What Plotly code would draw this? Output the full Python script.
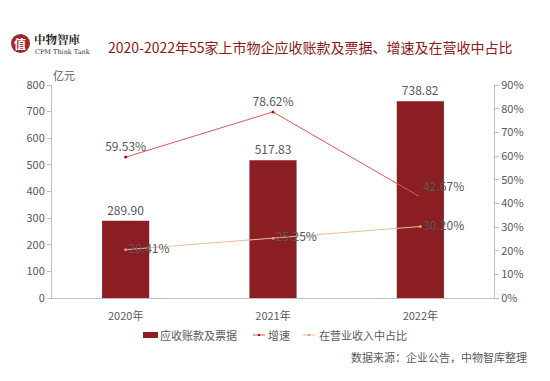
import plotly.graph_objects as go

years = ["2020年", "2021年", "2022年"]
receivables = [289.90, 517.83, 738.82]
growth = [59.53, 78.62, 42.67]
share = [20.41, 25.25, 30.20]
left_ticks = [0, 100, 200, 300, 400, 500, 600, 700, 800]
right_ticks = [0, 10, 20, 30, 40, 50, 60, 70, 80, 90]
legend_names = ["应收账款及票据", "增速", "在营业收入中占比"]

FONT = "Noto Sans CJK SC"
GRAY = "#595959"
BAR = "#8B1E22"
RED = "#E2555A"
TAN = "#EBBB9C"

fig = go.Figure()
fig.add_trace(go.Bar(
    x=years, y=receivables, name=legend_names[0], marker=dict(color=BAR, line=dict(width=0)),
    width=0.32, text=[f"{v:.2f}" for v in receivables], textposition="outside",
    textfont=dict(color=GRAY, size=12), cliponaxis=False, yaxis="y"))
fig.add_trace(go.Scatter(
    x=years, y=growth, name=legend_names[1], mode="lines+markers+text", yaxis="y2",
    line=dict(color=RED, width=1), marker=dict(size=3, color="#C00000"),
    text=[f"{v:.2f}%" for v in growth], textposition=["top center", "top center", "top right"],
    textfont=dict(color=GRAY, size=12), cliponaxis=False))
fig.add_trace(go.Scatter(
    x=years, y=share, name=legend_names[2], mode="lines+markers+text", yaxis="y2",
    line=dict(color=TAN, width=1), marker=dict(size=3, color="#D9A07A"),
    text=[f"{v:.2f}%" for v in share], textposition="middle right",
    textfont=dict(color=GRAY, size=12), cliponaxis=False))

# page is shown with an 8px body margin; plot area placed at ref px x 52-494, y 85-298
fig.update_layout(
    width=550, height=381, paper_bgcolor="white", plot_bgcolor="white",
    margin=dict(l=44, r=64, t=77, b=91),
    font=dict(family=FONT, color=GRAY, size=11),
    showlegend=False,
    xaxis=dict(showline=True, linecolor="#BFBFBF", linewidth=1, ticks="", showgrid=False,
               ticklabelstandoff=8, tickfont=dict(size=11, color=GRAY)),
    yaxis=dict(range=[0, 800], tickvals=left_ticks, showline=True, linecolor="#BFBFBF",
               linewidth=1, ticks="outside", ticklen=4, tickcolor="#BFBFBF", showgrid=False,
               zeroline=False, tickfont=dict(size=11, color=GRAY)),
    yaxis2=dict(range=[0, 90], tickvals=right_ticks, ticktext=[f"{v}%" for v in right_ticks],
                overlaying="y", side="right", showline=True, linecolor="#BFBFBF", linewidth=1,
                ticks="outside", ticklen=4, tickcolor="#BFBFBF", showgrid=False, zeroline=False,
                tickfont=dict(size=11, color=GRAY)),
)

def px(x):
    return (x - 52) / 442

def py(y):
    return (298 - y) / 213

anns = [
    dict(text="2020-2022年55家上市物企应收账款及票据、增速及在营收中占比", x=106, y=47,
         font=dict(size=14, color="#8B1A1A", family=FONT)),
    dict(text="亿元", x=51, y=75, font=dict(size=11, color=GRAY)),
    dict(text="数据来源：企业公告，中物智库整理", x=529, y=357, xanchor="right",
         font=dict(size=11, color=GRAY)),
    dict(text="<b>中物智庫</b>", x=32, y=39, font=dict(size=11.5, color="#222222", family="Noto Serif CJK TC, Noto Sans CJK TC")),
    dict(text="CPM Think Tank", x=33, y=52, font=dict(size=6.5, color="#333333", family="DejaVu Serif")),
    dict(text="<b>值</b>", x=20, y=43, xanchor="center", font=dict(size=12, color="white", family=FONT)),
    dict(text=legend_names[0], x=158, y=335, font=dict(size=11, color=GRAY)),
    dict(text=legend_names[1], x=266, y=335, font=dict(size=11, color=GRAY)),
    dict(text=legend_names[2], x=317, y=335, font=dict(size=11, color=GRAY)),
]
for a in anns:
    a.setdefault("xanchor", "left")
    fig.add_annotation(xref="paper", yref="paper", showarrow=False, yanchor="middle",
                       **{k: v for k, v in a.items() if k not in ("x", "y")},
                       x=px(a["x"]), y=py(a["y"]))

fig.add_shape(type="circle", xref="paper", yref="paper",
              x0=px(11), x1=px(30), y0=py(53), y1=py(34),
              fillcolor="#A3262B", line=dict(width=0))
# legend symbols
fig.add_shape(type="rect", xref="paper", yref="paper", x0=px(143), x1=px(158), y0=py(338), y1=py(332),
              fillcolor=BAR, line=dict(width=0))
for (x0, col, mcol) in [(253, RED, "#C00000"), (303, TAN, "#D9A07A")]:
    fig.add_shape(type="line", xref="paper", yref="paper", x0=px(x0), x1=px(x0 + 12), y0=py(335), y1=py(335),
                  line=dict(color=col, width=1))
    fig.add_shape(type="rect", xref="paper", yref="paper", x0=px(x0 + 5), x1=px(x0 + 7), y0=py(336), y1=py(334),
                  fillcolor=mcol, line=dict(width=0))
fig.write_html("out.html")
